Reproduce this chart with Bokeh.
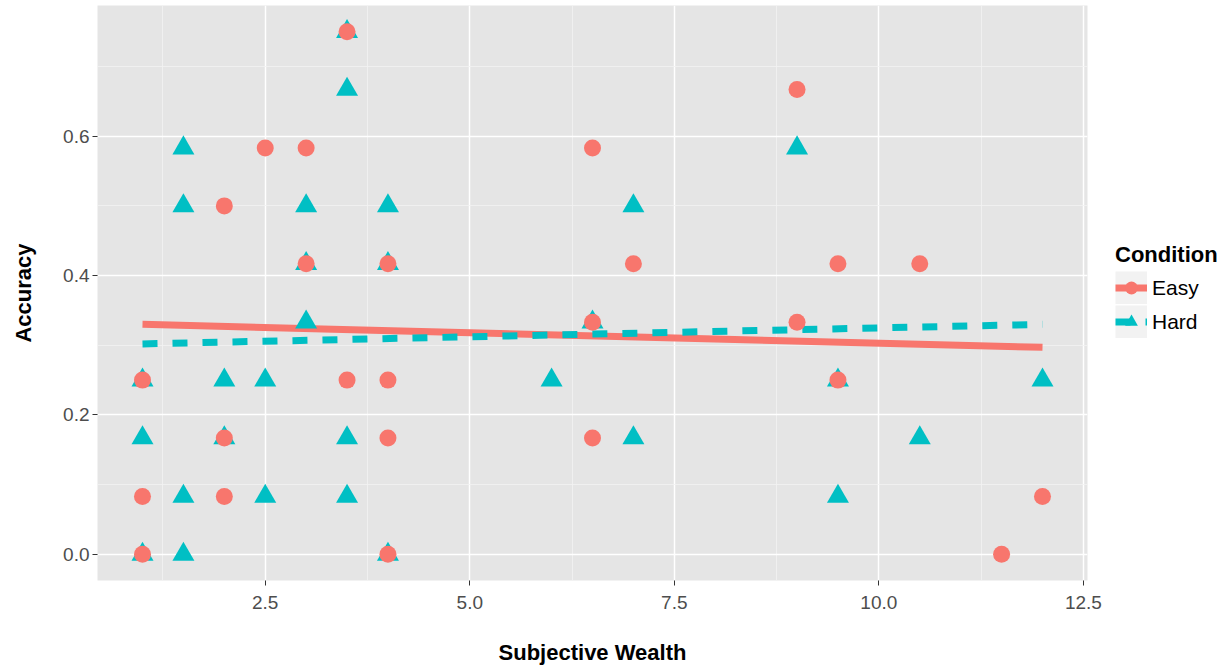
from bokeh.plotting import figure
from bokeh.layouts import row
from bokeh.models import Range1d, FixedTicker, Legend, LegendItem
from bokeh.embed import file_html
from bokeh.resources import INLINE

# ---- data ----
easy_x = [1, 1, 1, 2, 2, 2, 2.5, 3, 3, 3.5, 3.5, 4, 4, 4, 4,
          6.5, 6.5, 6.5, 7, 9, 9, 9.5, 9.5, 10.5, 11.5, 12]
easy_y = [0.25, 0.083, 0.0, 0.5, 0.167, 0.083, 0.583, 0.583, 0.417, 0.75, 0.25,
          0.417, 0.25, 0.167, 0.0, 0.583, 0.333, 0.167, 0.417, 0.667, 0.333,
          0.417, 0.25, 0.417, 0.0, 0.083]

hard_x = [1, 1, 1, 1.5, 1.5, 1.5, 1.5, 2, 2, 2.5, 2.5, 3, 3, 3, 3.5, 3.5, 3.5, 3.5,
          4, 4, 4, 6, 6.5, 7, 7, 9, 9.5, 9.5, 10.5, 12]
hard_y = [0.25, 0.167, 0.0, 0.583, 0.5, 0.083, 0.0, 0.25, 0.167, 0.25, 0.083,
          0.5, 0.417, 0.333, 0.75, 0.667, 0.167, 0.083, 0.5, 0.417, 0.0, 0.25,
          0.333, 0.5, 0.167, 0.583, 0.25, 0.083, 0.167, 0.25]

fit_x = [1, 12]
easy_fit = [0.330, 0.297]
hard_fit = [0.302, 0.330]

x_ticks = [2.5, 5.0, 7.5, 10.0, 12.5]
x_tick_labels = ["2.5", "5.0", "7.5", "10.0", "12.5"]
x_minor = [1.25, 3.75, 6.25, 8.75, 11.25]
y_ticks = [0.0, 0.2, 0.4, 0.6]
y_tick_labels = ["0.0", "0.2", "0.4", "0.6"]
y_minor = [0.1, 0.3, 0.5, 0.7]

series_names = ["Easy", "Hard"]
easy_color = "#F8766D"
hard_color = "#00BFC4"
FONT = "Liberation Sans"

# ---------------- main panel ----------------
p = figure(width=1106, height=667, output_backend="svg", toolbar_location=None,
           x_range=Range1d(0.45, 12.55), y_range=Range1d(-0.0375, 0.7875),
           min_border_left=97, min_border_right=19, min_border_top=5,
           min_border_bottom=87)
p.background_fill_color = "#E5E5E5"
p.border_fill_color = "white"
p.outline_line_color = None

xt = FixedTicker(ticks=x_ticks, minor_ticks=x_minor)
yt = FixedTicker(ticks=y_ticks, minor_ticks=y_minor)
p.xaxis.ticker = xt
p.yaxis.ticker = yt
p.xgrid.ticker = xt
p.ygrid.ticker = yt
p.xaxis.major_label_overrides = dict(zip(x_ticks, x_tick_labels))
p.yaxis.major_label_overrides = dict(zip(y_ticks, y_tick_labels))

for g in (p.xgrid, p.ygrid):
    g.grid_line_color = "white"
    g.grid_line_width = 1.5
    g.minor_grid_line_color = "#F2F2F2"
    g.minor_grid_line_width = 0.8

for ax in (p.xaxis, p.yaxis):
    ax.axis_line_color = None
    ax.major_tick_line_color = "#333333"
    ax.major_tick_in = 0
    ax.major_tick_out = 5
    ax.minor_tick_line_color = None
    ax.major_label_text_font = FONT
    ax.major_label_text_font_size = "19px"
    ax.major_label_text_color = "#4D4D4D"
    ax.axis_label_text_font = FONT
    ax.axis_label_text_font_size = "22px"
    ax.axis_label_text_font_style = "bold"
    ax.axis_label_text_color = "black"

p.xaxis.axis_label = "Subjective Wealth"
p.yaxis.axis_label = "Accuracy"
p.xaxis.major_label_standoff = 10
p.xaxis.axis_label_standoff = 28
p.yaxis.major_label_standoff = 3
p.yaxis.axis_label_standoff = 24

# fit lines
p.line(fit_x, easy_fit, line_color=easy_color, line_width=7)
p.line(fit_x, hard_fit, line_color=hard_color, line_width=7,
       line_dash="15 15", line_cap="butt")

# points
p.scatter(hard_x, hard_y, marker="triangle", size=22,
          fill_color=hard_color, line_color=None)
p.scatter(easy_x, easy_y, marker="circle", size=17,
          fill_color=easy_color, line_color=None)

# ---------------- legend panel ----------------
lp = figure(width=124, height=667, output_backend="svg", toolbar_location=None,
            x_range=Range1d(1, 2), y_range=Range1d(1, 2),
            x_axis_location=None, y_axis_location=None,
            min_border=0)
lp.grid.visible = False
lp.outline_line_color = None
lp.background_fill_color = "white"
lp.border_fill_color = "white"

# legend sample glyphs (single off-range points: nothing drawn in the panel)
key_bg = lp.line([0], [0], line_color="#F2F2F2", line_width=33, line_cap="butt")
easy_key_line = lp.line([0], [0], line_color=easy_color, line_width=7)
hard_key_line = lp.line([0], [0], line_color=hard_color, line_width=7,
                        line_dash="15 15", line_cap="butt")
easy_key_pt = lp.scatter([0], [0], marker="circle", size=17,
                         fill_color=easy_color, line_color=None)
hard_key_pt = lp.scatter([0], [0], marker="triangle", size=22,
                         fill_color=hard_color, line_color=None)

legend = Legend(items=[
    LegendItem(label=series_names[0], renderers=[key_bg, easy_key_line, easy_key_pt]),
    LegendItem(label=series_names[1], renderers=[key_bg, hard_key_line, hard_key_pt]),
], location=(9, 242))
legend.title = "Condition"
legend.title_text_font = FONT
legend.title_text_font_size = "22px"
legend.title_text_font_style = "bold"
legend.title_text_color = "black"
legend.title_standoff = 3
legend.label_text_font = FONT
legend.label_text_font_size = "21px"
legend.label_text_color = "black"
legend.glyph_width = 32
legend.glyph_height = 33
legend.label_standoff = 5
legend.spacing = 1
legend.padding = 0
legend.margin = 0
legend.border_line_color = None
legend.background_fill_alpha = 0
lp.add_layout(legend)

layout = row(p, lp, spacing=0)
open("out.html", "w").write(file_html(layout, INLINE))
